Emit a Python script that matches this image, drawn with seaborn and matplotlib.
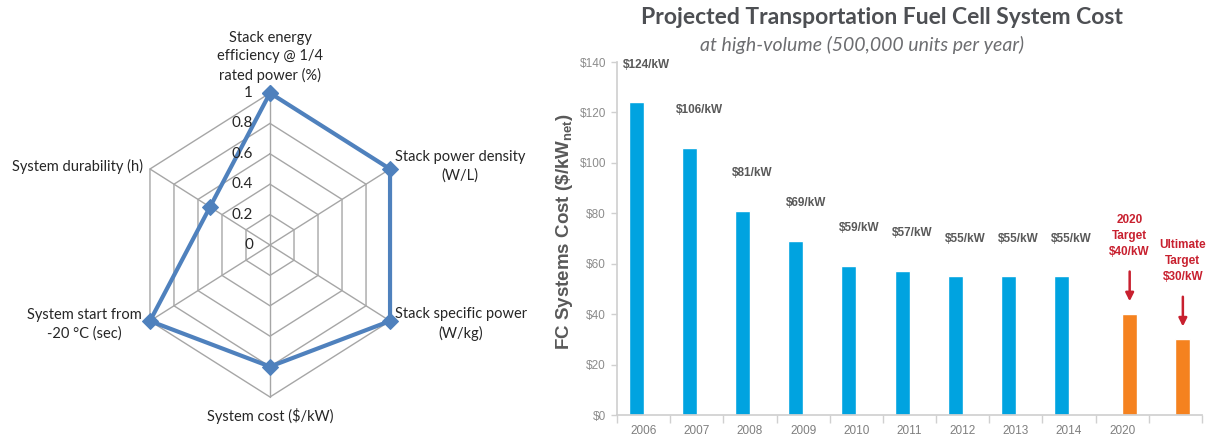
import numpy as np
import pandas as pd
import seaborn as sns
import matplotlib.pyplot as plt
from matplotlib.ticker import FuncFormatter

# --- radar (left) data ---
radar_labels = [
    "Stack energy\nefficiency @ 1/4\nrated power (%)",
    "Stack power density\n(W/L)",
    "Stack specific power\n(W/kg)",
    "System cost ($/kW)",
    "System start from\n-20 °C (sec)",
    "System durability (h)",
]
radar_values = [1.0, 1.0, 1.0, 0.8, 1.0, 0.5]
radar_rings = [0.2, 0.4, 0.6, 0.8, 1.0]
radar_ring_labels = ["0", "0.2", "0.4", "0.6", "0.8", "1"]

# --- bar chart (right) data ---
cost_categories = ["2006", "2007", "2008", "2009", "2010", "2011", "2012",
                   "2013", "2014", "2020", "Ultimate"]
cost_tick_labels = ["2006", "2007", "2008", "2009", "2010", "2011", "2012",
                    "2013", "2014", "2020", ""]
actual_costs = [124, 106, 81, 69, 59, 57, 55, 55, 55, np.nan, np.nan]
target_costs = [np.nan] * 9 + [40, 30]
target_texts = ["2020\nTarget\n$40/kW", "Ultimate\nTarget\n$30/kW"]
cost_yticks = [0, 20, 40, 60, 80, 100, 120, 140]

BLUE = "#00A3E0"
ORANGE = "#F5821F"
RED = "#C8202F"
RADAR_BLUE = "#4F81BD"
GRID = "#A6A6A6"
ARIAL = ["Liberation Sans", "DejaVu Sans"]

sns.set_theme(style="white")
plt.rcParams["font.family"] = ["Lato", "DejaVu Sans"]

fig = plt.figure(figsize=(12.08, 4.36), dpi=100)

# ---------------- radar ----------------
ax1 = fig.add_axes([0, 0, 560 / 1208, 1])
ax1.axis("off")
sx, sy = 138.6, 152.0   # px per unit on each direction
ax1.set_xlim(-270 / sx, (560 - 270) / sx)
ax1.set_ylim(-191 / sy, 245 / sy)

n = len(radar_labels)
angles = np.deg2rad(90 - 60 * np.arange(n))
ux, uy = np.cos(angles), np.sin(angles)

for r in radar_rings:
    ax1.plot(np.append(ux, ux[0]) * r, np.append(uy, uy[0]) * r,
             color=GRID, lw=1, zorder=1)
for k in range(n):
    ax1.plot([0, ux[k]], [0, uy[k]], color=GRID, lw=1, zorder=1)

vals = np.array(radar_values)
radar_df = pd.DataFrame({"x": np.append(ux * vals, ux[0] * vals[0]),
                         "y": np.append(uy * vals, uy[0] * vals[0])})
sns.lineplot(data=radar_df, x="x", y="y", sort=False, estimator=None,
             color=RADAR_BLUE, lw=3, marker="D", markersize=8,
             markeredgecolor=RADAR_BLUE, ax=ax1, zorder=3)
ax1.set_xlabel("")
ax1.set_ylabel("")

for lab, r in zip(radar_ring_labels, [0] + radar_rings):
    ax1.text(-17 / sx, r, lab, ha="right", va="center", fontsize=11,
             color="#262626", zorder=4)

# label placement (offset in px from each vertex)
label_offsets = [(0, 10, "center", "bottom"), (5, 3, "left", "center"),
                 (5, -3, "left", "center"), (0, -11, "center", "top"),
                 (-8, -3, "right", "center"), (-7, 3, "right", "center")]
for k, lab in enumerate(radar_labels):
    dx, dy, ha, va = label_offsets[k]
    ax1.annotate(lab, xy=(ux[k], uy[k]), xytext=(dx * 0.72, dy * 0.72),
                 textcoords="offset points", ha=ha, va=va,
                 multialignment="center", fontsize=10.5, color="#262626",
                 linespacing=1.4)

# ---------------- bar chart ----------------
ax2 = fig.add_axes([617 / 1208, 21 / 436, 585 / 1208, 353 / 436])
df = pd.concat([
    pd.DataFrame({"category": cost_categories, "cost": actual_costs, "series": "Actual"}),
    pd.DataFrame({"category": cost_categories, "cost": target_costs, "series": "Target"}),
]).dropna()
sns.barplot(data=df, x="category", y="cost", hue="series",
            order=cost_categories, hue_order=["Actual", "Target"],
            palette=[BLUE, ORANGE], saturation=1, width=0.56, dodge=True,
            errorbar=None, legend=False, ax=ax2)

ax2.set_xlim(-0.5, len(cost_categories) - 0.5)
ax2.set_ylim(0, 140)
ax2.set_yticks(cost_yticks)
ax2.yaxis.set_major_formatter(FuncFormatter(lambda v, p: f"${v:.0f}"))
ax2.set_xticks(range(len(cost_categories)))
ax2.set_xticklabels(cost_tick_labels)
ax2.set_xticks(np.arange(-0.5, len(cost_categories)), minor=True)
ax2.tick_params(axis="x", which="major", length=0, pad=7, labelsize=8.5,
                labelcolor="#7F7F7F")
ax2.tick_params(axis="x", which="minor", length=6, width=1, color="#D0D0D0",
                bottom=True)
ax2.tick_params(axis="y", length=4, width=1, color="#D0D0D0", left=True,
                labelsize=8.5, labelcolor="#8C8C8C", pad=4)
for lab in ax2.get_xticklabels() + ax2.get_yticklabels():
    lab.set_family(ARIAL)
for side in ["top", "right"]:
    ax2.spines[side].set_visible(False)
for side in ["left", "bottom"]:
    ax2.spines[side].set_color("#D0D0D0")
ax2.set_xlabel("")
ax2.set_ylabel(r"FC Systems Cost (\$/kW$_{\mathregular{net}}$)", fontsize=13.5,
               fontweight="bold", color="#595959", family=ARIAL)
ax2.yaxis.set_label_coords(-0.072, 0.52)

for i, v in enumerate(actual_costs):
    if not np.isnan(v):
        ax2.text(i + 0.05, v + 15, f"${v:.0f}/kW", ha="center", va="center",
                 fontsize=8.5, fontweight="bold", color="#595959", family=ARIAL)

target_bars = ax2.containers[1]
for bar, txt, v in zip(target_bars, target_texts, [c for c in target_costs if not np.isnan(c)]):
    xc = bar.get_x() + bar.get_width() / 2
    ax2.text(xc, v + 31, txt, ha="center", va="center", fontsize=8.5,
             fontweight="bold", color=RED, linespacing=1.45, family=ARIAL)
    ax2.annotate("", xy=(xc, v + 4), xytext=(xc, v + 18),
                 arrowprops=dict(arrowstyle="-|>", color=RED, lw=1.8,
                                 mutation_scale=12))

fig.text(882 / 1208, 1 - 17 / 436, "Projected Transportation Fuel Cell System Cost",
         ha="center", va="center", fontsize=16.5, fontweight="bold", color="#4D4F53")
fig.text(862 / 1208, 1 - 45 / 436, "at high-volume (500,000 units per year)",
         ha="center", va="center", fontsize=14, style="italic", color="#6D6E71")

fig.savefig("out.png", dpi=100)
